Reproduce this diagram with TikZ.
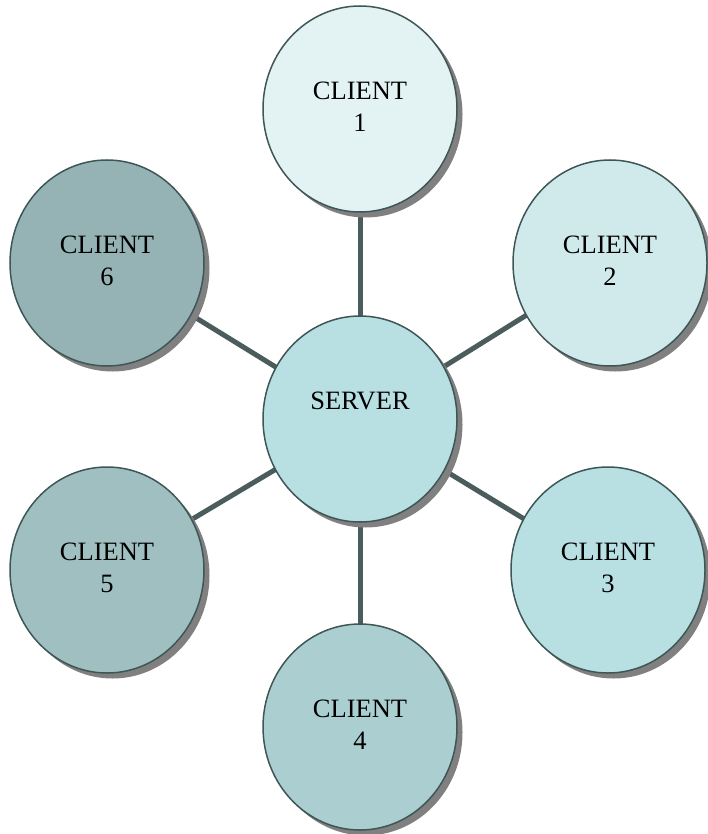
\documentclass[tikz,border=0pt]{standalone}
\usepackage{fontspec}
\setmainfont{Liberation Serif}
\usetikzlibrary{shapes.geometric,shadows}
\definecolor{cA}{HTML}{E3F3F4}
\definecolor{cB}{HTML}{D0EAEC}
\definecolor{cS}{HTML}{B8E0E3}
\definecolor{cC}{HTML}{B8E0E3}
\definecolor{cD}{HTML}{ABCED1}
\definecolor{cE}{HTML}{A0BFC1}
\definecolor{cF}{HTML}{95B3B5}
\definecolor{edge}{HTML}{3F5656}
\definecolor{link}{HTML}{4A5C5C}
\definecolor{shade}{HTML}{808080}
\tikzset{
  bubble/.style={ellipse, draw=edge, line width=1.5pt, minimum width=194pt, minimum height=206pt, inner sep=0pt,
    drop shadow={shadow xshift=5.5pt, shadow yshift=-5.5pt, fill=shade, opacity=1}},
  lbl/.style={anchor=north, align=center, inner sep=0pt, font=\fontsize{26.5}{32.5}\selectfont},
  linkline/.style={draw=link, line width=5pt}
}
\begin{document}
\begin{tikzpicture}[x=1pt,y=-1pt]
\useasboundingbox (0,0) rectangle (708,834);
% connector lines behind
\coordinate (p1) at (360,109);
\coordinate (p2) at (610,263);
\coordinate (p3) at (608,570);
\coordinate (p4) at (360,727);
\coordinate (p5) at (107,570);
\coordinate (p6) at (107,263);
\coordinate (ps) at (360,419);
\foreach \p in {p1,p2,p3,p4,p5,p6} \draw[linkline] (ps) -- (\p);
% nodes
\node[bubble, fill=cA] (c1) at (p1) {};
\node[bubble, fill=cB] (c2) at (p2) {};
\node[bubble, fill=cC] (c3) at (p3) {};
\node[bubble, fill=cD] (c4) at (p4) {};
\node[bubble, fill=cE] (c5) at (p5) {};
\node[bubble, fill=cF] (c6) at (p6) {};
\node[bubble, fill=cS] (srv) at (ps) {};
\node[lbl] (t1) at ([yshift=27.5pt]c1.center) {CLIENT\\1};
\node[lbl] (t2) at ([yshift=27.5pt]c2.center) {CLIENT\\2};
\node[lbl] (t3) at ([yshift=27.5pt]c3.center) {CLIENT\\3};
\node[lbl] (t4) at ([yshift=27.5pt]c4.center) {CLIENT\\4};
\node[lbl] (t5) at ([yshift=27.5pt]c5.center) {CLIENT\\5};
\node[lbl] (t6) at ([yshift=27.5pt]c6.center) {CLIENT\\6};
\node[lbl] (ts) at ([yshift=27.5pt]srv.center) {SERVER};
\end{tikzpicture}
\end{document}
